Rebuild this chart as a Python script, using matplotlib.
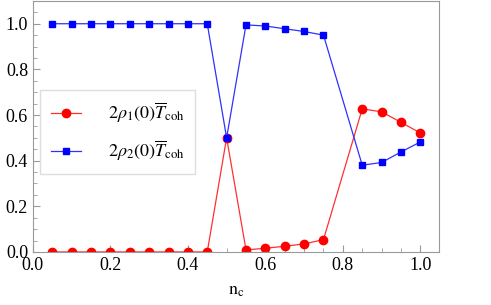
import numpy as np
import matplotlib
matplotlib.use('Agg')
import matplotlib.pyplot as plt

plt.rcParams['font.family'] = ['Liberation Serif', 'DejaVu Serif']
plt.rcParams['mathtext.fontset'] = 'stix'

# data
nc = [0.05, 0.10, 0.15, 0.20, 0.25, 0.30, 0.35, 0.40, 0.45, 0.50,
      0.55, 0.60, 0.65, 0.70, 0.75, 0.85, 0.90, 0.95, 1.00]
rho1 = [0.0, 0.0, 0.0, 0.0, 0.0, 0.0, 0.0, 0.0, 0.0, 0.5,
        0.009, 0.016, 0.025, 0.035, 0.054, 0.627, 0.614, 0.568, 0.521]
rho2 = [1.0, 1.0, 1.0, 1.0, 1.0, 1.0, 1.0, 1.0, 1.0, 0.5,
        0.995, 0.99, 0.978, 0.966, 0.95, 0.38, 0.392, 0.438, 0.482]

fig = plt.figure(figsize=(4.91, 3.05), dpi=100)
ax = fig.add_axes([0.067, 0.174, 0.827, 0.823])

ax.plot(nc, rho1, color='#ff3030', lw=0.9, marker='o', ms=6,
        mfc='red', mec='red', label=r'$2\rho_1(0)\overline{T}_{\rm coh}$')
ax.plot(nc, rho2, color='#3030ff', lw=0.9, marker='s', ms=4.8,
        mfc='blue', mec='blue', label=r'$2\rho_2(0)\overline{T}_{\rm coh}$')

ax.set_xlim(0, 1.048)
ax.set_ylim(0, 1.1)
ax.set_xticks(np.arange(0, 1.01, 0.2))
ax.set_yticks(np.arange(0, 1.01, 0.2))
ax.set_xticks(np.arange(0, 1.05, 0.05), minor=True)
ax.set_yticks(np.arange(0, 1.1, 0.05), minor=True)
ax.xaxis.set_major_formatter(matplotlib.ticker.FormatStrFormatter('%.1f'))
ax.yaxis.set_major_formatter(matplotlib.ticker.FormatStrFormatter('%.1f'))
ax.tick_params(which='both', direction='in', color='#999999', labelsize=13)
ax.tick_params(which='major', length=5)
ax.tick_params(which='minor', length=3)
for s in ax.spines.values():
    s.set_color('#999999')

ax.set_xlabel(r'$\mathrm{n_c}$', fontsize=13, labelpad=6)

leg = ax.legend(loc='upper left', bbox_to_anchor=(0.017, 0.647), fontsize=13,
                fancybox=False, edgecolor='#dddddd', framealpha=1,
                borderaxespad=0, handlelength=1.7, handletextpad=1.45,
                borderpad=0.6, labelspacing=0.75)

fig.savefig('out.png', dpi=100)
